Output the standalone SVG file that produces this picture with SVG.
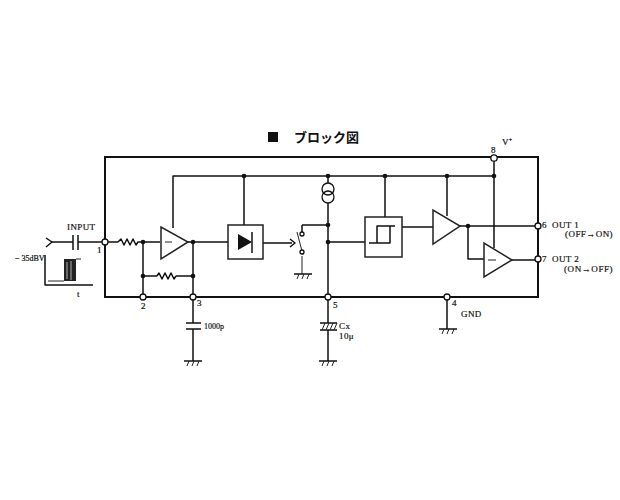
<svg xmlns="http://www.w3.org/2000/svg" width="620" height="500" viewBox="0 0 620 500">
<style>
text{font-family:"Liberation Serif",serif;fill:#111}
.l{font-size:9px;letter-spacing:.4px;stroke:#111;stroke-width:.2}
.s{font-size:8px;letter-spacing:0}
.w{fill:none;stroke:#111;stroke-width:1.5;stroke-linejoin:round}
.t{fill:none;stroke:#222;stroke-width:1}
.h{fill:none;stroke:#111;stroke-width:2}
.d{fill:#111}
.o{fill:#fff;stroke:#111;stroke-width:1.3}
.b{fill:#fff;stroke:#222;stroke-width:1.5}
</style>
<defs>
<g id="gnd"><path class="w" d="M-9 0H9"/><path class="t" d="M-4 0l-2 5M1 0l-2 5M6 0l-2 5"/></g>
</defs>
<rect width="620" height="500" fill="#fff"/>
<g id="connectors">
<path class="h" d="M105 242V157H538V297H105V242"/>
<path class="w" d="M173 228V176H494M494 158V248M244 176V225M385 176V217M328 176V183M328 203V297M447 176V216"/>
<path class="w" d="M52 242H73M78 242H105M105 242H118M140 242H160M143 242V297M187 242H228M193 242V297M143 276H157M176 276H193"/>
<path class="w" d="M263 243H292M302 225V232M302 225H328M328 242H365M402 227H433M460 226H538M468 226V259H484M512 260H538"/>
<path class="w" d="M193 297V323M193 329V361M328 297V323M328 330V361M447 297V329"/>
<path class="t" d="M302 256V274"/>
<path class="w" d="M46 238L52 242L46 247"/>
<path class="w" d="M118 242l3-3 3 6 3-6 3 6 3-6 3 6 2-3h2M157 276l2-3 3 6 3-6 3 6 3-6 3 6 2-3"/>
</g>
<g id="input-cap"><path class="w" d="M73 235V250M78 235V250"/></g>
<g id="pulse">
<path class="w" d="M45 255V285H93" stroke-width="1.3"/><path class="t" d="M48 281H64M76 259H81"/>
<rect x="64" y="259" width="12" height="22" fill="#222"/>
<path d="M67 262V279M71 261V280" stroke="#999" stroke-width="1.2" fill="none"/>
</g>
<g id="amp1"><path class="b" d="M161 227V259L188 242Z"/><path class="t" d="M165 242H172"/></g>
<g id="detector"><rect class="b" x="228" y="225" width="35" height="34"/><path class="d" d="M238 234V250L252 242Z"/><path class="w" d="M252 232V253"/></g>
<g id="switch">
<path class="w" d="M290 239L295 243L290 247"/><path class="t" d="M297 232L303 255"/>
<circle class="o" cx="302" cy="234" r="2"/><circle class="o" cx="302" cy="252" r="2"/>
<use href="#gnd" x="303" y="274"/>
</g>
<g id="current-source"><circle cx="328" cy="189" r="6" fill="none" stroke="#111" stroke-width="1.3"/><circle cx="328" cy="197" r="6" fill="none" stroke="#111" stroke-width="1.3"/></g>
<g id="schmitt"><rect class="b" x="365" y="217" width="37" height="40"/><path class="w" d="M369 243H390V226H377V243M390 226H395"/></g>
<g id="amp2"><path class="b" d="M433 210V244L460 226Z"/></g>
<g id="amp3"><path class="b" d="M484 243V277L512 260Z"/><path class="t" d="M488 260H496"/></g>
<g id="cap-1000p"><path class="w" d="M186 323H201M186 329H201"/><use href="#gnd" x="193" y="361"/></g>
<g id="cap-cx"><path class="w" d="M320 323H337M320 330H337"/><path class="t" d="M322 330l3-7M326 330l3-7M330 330l3-7M334 330l3-7"/><use href="#gnd" x="328" y="361"/></g>
<g id="gnd-4"><use href="#gnd" x="448" y="329"/></g>
<g id="dots">
<circle class="d" cx="143" cy="242" r="2.3"/><circle class="d" cx="193" cy="242" r="2.3"/><circle class="d" cx="143" cy="276" r="2.3"/><circle class="d" cx="193" cy="276" r="2.3"/><circle class="d" cx="244" cy="176" r="2.3"/><circle class="d" cx="328" cy="176" r="2.3"/><circle class="d" cx="385" cy="176" r="2.3"/><circle class="d" cx="447" cy="176" r="2.3"/><circle class="d" cx="494" cy="176" r="2.3"/><circle class="d" cx="328" cy="225" r="2.3"/><circle class="d" cx="328" cy="242" r="2.3"/><circle class="d" cx="468" cy="226" r="2.3"/>
</g>
<g id="pins">
<circle class="o" cx="105" cy="242" r="3"/><circle class="o" cx="143" cy="297" r="3"/><circle class="o" cx="193" cy="297" r="3"/><circle class="o" cx="328" cy="297" r="3"/><circle class="o" cx="447" cy="297" r="3"/><circle class="o" cx="494" cy="158" r="3.2"/><circle class="o" cx="538" cy="226" r="3"/><circle class="o" cx="538" cy="259" r="3"/>
</g>
<g id="labels">
<rect x="268" y="132" width="10" height="10" fill="#111"/>
<text x="294" y="142" font-size="13" font-weight="bold" style="font-family:'Noto Sans CJK JP',sans-serif">ブロック図</text>
<text class="l" x="67" y="230">INPUT</text>
<text class="l s" x="15" y="261">− 35dBV</text>
<text class="l" x="77" y="297">t</text>
<text class="l" x="97" y="253">1</text>
<text class="l" x="141" y="309">2</text>
<text class="l" x="197" y="306">3</text>
<text class="l s" x="204" y="329">1000p</text>
<text class="l" x="333" y="308">5</text>
<text class="l" x="452" y="306">4</text>
<text class="l" x="461" y="317">GND</text>
<text class="l" x="339" y="329">Cx</text>
<text class="l" x="339" y="339">10μ</text>
<text class="l" x="491" y="153">8</text>
<text class="l" x="502" y="145">V⁺</text>
<text class="l" x="542" y="228">6</text>
<text class="l" x="552" y="228">OUT 1</text>
<text class="l" x="565" y="237" textLength="48">(OFF→ON)</text>
<text class="l" x="542" y="262">7</text>
<text class="l" x="552" y="262">OUT 2</text>
<text class="l" x="564" y="272" textLength="49">(ON→OFF)</text>
</g>
</svg>
